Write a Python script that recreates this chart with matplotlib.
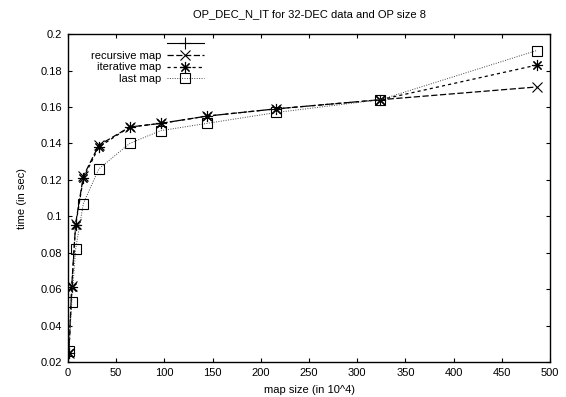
import matplotlib
matplotlib.use('Agg')
import matplotlib.pyplot as plt
from matplotlib.ticker import MultipleLocator, FuncFormatter

plt.rcParams['font.family'] = ['Liberation Sans', 'DejaVu Sans']
plt.rcParams['font.size'] = 8

# map size (in 10^4)
map_size = [1, 4, 8, 16, 32, 64, 96, 144, 216, 324, 486]

# time (in sec)
recursive_map = [0.025, 0.062, 0.096, 0.122, 0.139, 0.149, 0.151, 0.155, 0.159, 0.164, 0.171]
iterative_map = [0.025, 0.061, 0.095, 0.121, 0.138, 0.149, 0.151, 0.155, 0.159, 0.164, 0.183]
last_map = [0.026, 0.053, 0.082, 0.107, 0.126, 0.140, 0.147, 0.151, 0.157, 0.164, 0.191]

# first key entry of the original has no title and no visible points
unnamed_x = []
unnamed_y = []

fig = plt.figure(figsize=(5.66, 3.97), dpi=100)
ax = fig.add_axes([0.120, 0.088, 0.852, 0.826])

ax.plot(unnamed_x, unnamed_y, color='black', lw=0.8, marker='+', ms=8,
        mew=0.8, label=' ')
ax.plot(map_size, recursive_map, color='black', lw=0.9, dashes=(5, 2),
        marker='x', ms=7, mew=0.8, label='recursive map')
ax.plot(map_size, iterative_map, color='black', lw=0.9, dashes=(2.5, 2.5),
        marker=(8, 2, 0), ms=8, mew=0.8, label='iterative map')
ax.plot(map_size, last_map, color='#444444', lw=0.7, dashes=(1, 1.5),
        marker='s', ms=7, mew=0.8, mfc='none', mec='black', label='last map')

ax.set_xlim(0, 500)
ax.set_ylim(0.02, 0.2)
ax.xaxis.set_major_locator(MultipleLocator(50))
ax.yaxis.set_major_locator(MultipleLocator(0.02))
ax.yaxis.set_major_formatter(FuncFormatter(lambda v, p: '%g' % round(v, 3)))
ax.tick_params(direction='in', length=3, width=0.8, top=True, right=True,
               labelsize=8, pad=4)
for s in ax.spines.values():
    s.set_linewidth(1.0)

ax.set_title('OP_DEC_N_IT for 32-DEC data and OP size 8', fontsize=8, pad=12)
ax.set_xlabel('map size (in 10^4)', fontsize=8, labelpad=5)
ax.set_ylabel('time (in sec)', fontsize=8, labelpad=10)

ax.legend(loc='upper right', bbox_to_anchor=(0.292, 1.0), frameon=False,
          markerfirst=False, handlelength=3.3, handletextpad=0.5,
          labelspacing=0.15, borderaxespad=0.05, fontsize=8)

plt.savefig('out.png', dpi=100)
